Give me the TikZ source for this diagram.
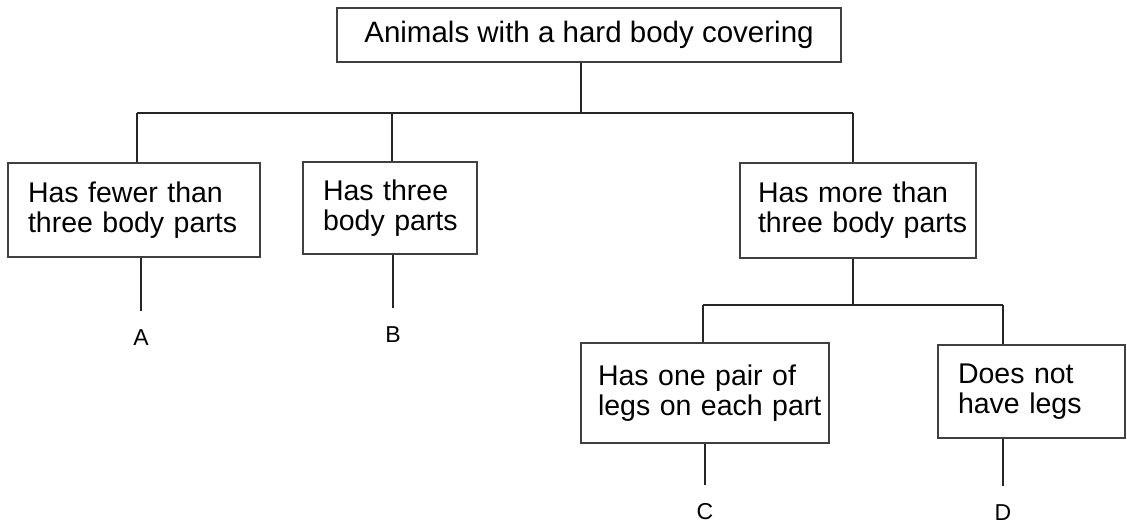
\documentclass[tikz,border=0pt]{standalone}
\usepackage{fontspec}
\setmainfont{Liberation Sans}
\begin{document}
\begin{tikzpicture}[x=1pt,y=-1pt,
  box/.style={draw=black!75, line width=1.8pt, rectangle, inner ysep=0pt,
    font=\fontsize{28.5}{30}\selectfont, align=left},
  topbox/.style={draw=black!75, line width=1.8pt, rectangle, inner sep=0pt,
    font=\fontsize{29.5}{30}\selectfont, align=center},
  lbl/.style={inner sep=0pt, anchor=base, font=\fontsize{23}{26}\selectfont},
  conn/.style={draw=black!85, line width=2pt},
  toLbl/.style={conn, shorten >=18pt}]
\useasboundingbox (0,0) rectangle (1127,525);

% boxes
\node[topbox, minimum width=504pt, minimum height=54pt] (top) at (589,35) {Animals with a hard body covering};
\node[box, minimum width=252pt, minimum height=94pt, inner xsep=20pt, text width=212pt] (a) at (134,210) {Has fewer than\\three~body~parts};
\node[box, minimum width=174pt, minimum height=92pt, inner xsep=20pt, text width=134pt] (b) at (390,208) {Has three\\body~parts};
\node[box, minimum width=236pt, minimum height=95pt, inner xsep=18pt, text width=200pt] (m) at (858,210.5) {Has more than\\three~body~parts};
\node[box, minimum width=248pt, minimum height=100pt, inner xsep=17pt, text width=214pt] (c) at (705,393) {Has one pair of\\legs~on~each~part};
\node[box, minimum width=187pt, minimum height=93pt, inner xsep=20pt, text width=147pt] (d) at (1031.5,391.5) {Does not\\have~legs};

% labels
\node[lbl] (la) at (141,345) {A};
\node[lbl] (lb) at (393,342) {B};
\node[lbl] (lc) at (705,519) {C};
\node[lbl] (ld) at (1003,520) {D};

% junctions
\coordinate (j0) at (581,113);
\coordinate (ja) at (137,113);
\coordinate (jb) at (392,113);
\coordinate (jm) at (853,113);
\coordinate (k0) at (853,305);
\coordinate (kc) at (703,305);
\coordinate (kd) at (1003,305);

% connectors
\draw[conn] (top.south -| j0) -- (j0);
\draw[conn] (ja) -- (jm);
\draw[conn] (ja) -- (ja |- a.north);
\draw[conn] (jb) -- (jb |- b.north);
\draw[conn] (jm) -- (jm |- m.north);
\draw[conn] (m.south -| k0) -- (k0);
\draw[conn] (kc) -- (kd);
\draw[conn] (kc) -- (kc |- c.north);
\draw[conn] (kd) -- (kd |- d.north);

\draw[toLbl] (a.south -| la) -- (la.north);
\draw[toLbl] (b.south -| lb) -- (lb.north);
\draw[toLbl] (c.south -| lc) -- (lc.north);
\draw[toLbl] (d.south -| ld) -- (ld.north);
\end{tikzpicture}
\end{document}
